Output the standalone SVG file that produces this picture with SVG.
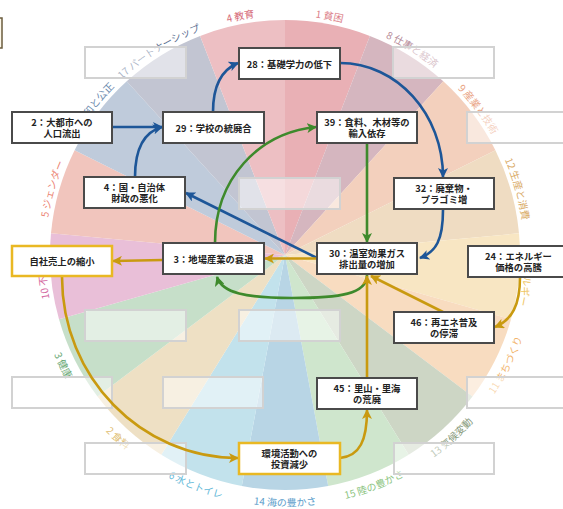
<svg xmlns="http://www.w3.org/2000/svg" width="563" height="509" viewBox="0 0 563 509">
<style>
.lbl{font-family:'Noto Sans CJK JP','Noto Sans',sans-serif;font-size:10px;}
.ph{fill:#ffffff;fill-opacity:0.5;stroke:#d2d2d2;stroke-width:2;}
.nd rect{fill:#ffffff;stroke:#4a4a4a;stroke-width:2;}
.nd.g rect{stroke:#e9b823;stroke-width:2.5;}
.nd text{font-family:'Noto Sans CJK JP','Noto Sans',sans-serif;font-size:9.3px;font-weight:bold;fill:#222;text-anchor:middle;dominant-baseline:central;}
.c{fill:none;stroke-width:2.6;}
.b{stroke:#1d5698;marker-end:url(#mb);}
.gr{stroke:#3e8a2c;marker-end:url(#mg);}
.y{stroke:#c99a10;marker-end:url(#my);}
</style>
<defs>
<marker id="mb" viewBox="0 0 10 10" refX="9" refY="5" markerWidth="10" markerHeight="10" markerUnits="userSpaceOnUse" orient="auto"><path d="M0,0 L10,5 L0,10 L2.5,5 z" fill="#1d5698"/></marker>
<marker id="mg" viewBox="0 0 10 10" refX="9" refY="5" markerWidth="10" markerHeight="10" markerUnits="userSpaceOnUse" orient="auto"><path d="M0,0 L10,5 L0,10 L2.5,5 z" fill="#3e8a2c"/></marker>
<marker id="my" viewBox="0 0 10 10" refX="9" refY="5" markerWidth="10" markerHeight="10" markerUnits="userSpaceOnUse" orient="auto"><path d="M0,0 L10,5 L0,10 L2.5,5 z" fill="#c99a10"/></marker>
<path id="a1" d="M205.4,29.1 A239.5,239.5 0 0 1 440.8,73.1"/>
<path id="a8" d="M292.4,15.6 A239.5,239.5 0 0 1 496.0,141.7"/>
<path id="a9" d="M378.4,34.4 A239.5,239.5 0 0 1 522.7,225.6"/>
<path id="a12" d="M451.8,83.1 A239.5,239.5 0 0 1 517.3,313.4"/>
<path id="a7" d="M502.6,154.9 A239.5,239.5 0 0 1 480.5,393.4"/>
<path id="a10" d="M89.5,393.4 A239.5,239.5 0 0 1 67.4,154.9"/>
<path id="a5" d="M52.7,313.4 A239.5,239.5 0 0 1 118.2,83.1"/>
<path id="a16" d="M47.3,225.6 A239.5,239.5 0 0 1 191.6,34.4"/>
<path id="a17" d="M74.0,141.7 A239.5,239.5 0 0 1 277.6,15.6"/>
<path id="a4" d="M129.2,73.1 A239.5,239.5 0 0 1 364.6,29.1"/>
<path id="a11" d="M424.0,464.7 A251.5,251.5 0 0 0 536.0,239.5"/>
<path id="a13" d="M338.8,500.6 A251.5,251.5 0 0 0 524.7,331.2"/>
<path id="a15" d="M246.4,503.5 A251.5,251.5 0 0 0 480.9,412.7"/>
<path id="a14" d="M159.3,472.8 A251.5,251.5 0 0 0 410.7,472.8"/>
<path id="a6" d="M89.1,412.7 A251.5,251.5 0 0 0 323.6,503.5"/>
<path id="a2" d="M45.3,331.2 A251.5,251.5 0 0 0 231.2,500.6"/>
<path id="a3" d="M34.0,239.5 A251.5,251.5 0 0 0 146.0,464.7"/>
</defs>
<rect width="563" height="509" fill="#ffffff"/>
<g id="wheel" stroke="none">
<path d="M285,255 L285,20 A235,235 0 0 1 369.9,35.9 Z" fill="#e9b0b5"/>
<path d="M285,255 L369.9,35.9 A235,235 0 0 1 443.3,81.3 Z" fill="#d5b6bf"/>
<path d="M285,255 L443.3,81.3 A235,235 0 0 1 495.4,150.3 Z" fill="#f3d0bd"/>
<path d="M285,255 L495.4,150.3 A235,235 0 0 1 519.0,233.3 Z" fill="#efdcc2"/>
<path d="M285,255 L519.0,233.3 A235,235 0 0 1 511.0,319.3 Z" fill="#f8e6c3"/>
<path d="M285,255 L511.0,319.3 A235,235 0 0 1 472.5,396.6 Z" fill="#f8dcc0"/>
<path d="M285,255 L472.5,396.6 A235,235 0 0 1 408.7,454.8 Z" fill="#cdd6c5"/>
<path d="M285,255 L408.7,454.8 A235,235 0 0 1 328.2,486.0 Z" fill="#cfe6cd"/>
<path d="M285,255 L328.2,486.0 A235,235 0 0 1 241.8,486.0 Z" fill="#b8d5e5"/>
<path d="M285,255 L241.8,486.0 A235,235 0 0 1 161.3,454.8 Z" fill="#c2e2ec"/>
<path d="M285,255 L161.3,454.8 A235,235 0 0 1 97.5,396.6 Z" fill="#eee0c4"/>
<path d="M285,255 L97.5,396.6 A235,235 0 0 1 59.0,319.3 Z" fill="#c6dfc9"/>
<path d="M285,255 L59.0,319.3 A235,235 0 0 1 51.0,233.3 Z" fill="#e9bfd8"/>
<path d="M285,255 L51.0,233.3 A235,235 0 0 1 74.6,150.3 Z" fill="#f1c5bd"/>
<path d="M285,255 L74.6,150.3 A235,235 0 0 1 126.7,81.3 Z" fill="#bfcbdb"/>
<path d="M285,255 L126.7,81.3 A235,235 0 0 1 200.1,35.9 Z" fill="#c2c5d2"/>
<path d="M285,255 L200.1,35.9 A235,235 0 0 1 285,20 Z" fill="#edbfc3"/>
</g>
<g id="labels" class="lbl">
<text fill="#dc7f89"><textPath href="#a1" startOffset="50%" text-anchor="middle">1 貧困</textPath></text>
<text fill="#b58a98"><textPath href="#a8" startOffset="50%" text-anchor="middle">8 仕事と経済</textPath></text>
<text fill="#e9a383"><textPath href="#a9" startOffset="50%" text-anchor="middle">9 産業と技術</textPath></text>
<text fill="#d9aa66"><textPath href="#a12" startOffset="50%" text-anchor="middle">12 生産と消費</textPath></text>
<text fill="#efc560"><textPath href="#a7" startOffset="50%" text-anchor="middle">7 エネルギー</textPath></text>
<text fill="#f2b46c"><textPath href="#a11" startOffset="50%" text-anchor="middle">11 まちづくり</textPath></text>
<text fill="#86997a"><textPath href="#a13" startOffset="50%" text-anchor="middle">13 気候変動</textPath></text>
<text fill="#8cc47f"><textPath href="#a15" startOffset="50%" text-anchor="middle">15 陸の豊かさ</textPath></text>
<text fill="#5c9ecb"><textPath href="#a14" startOffset="50%" text-anchor="middle">14 海の豊かさ</textPath></text>
<text fill="#5fb8d8"><textPath href="#a6" startOffset="50%" text-anchor="middle">6 水とトイレ</textPath></text>
<text fill="#e0bd70"><textPath href="#a2" startOffset="50%" text-anchor="middle">2 食料</textPath></text>
<text fill="#68a874"><textPath href="#a3" startOffset="50%" text-anchor="middle">3 健康</textPath></text>
<text fill="#d46aa2"><textPath href="#a10" startOffset="50%" text-anchor="middle">10 不平等</textPath></text>
<text fill="#ec8474"><textPath href="#a5" startOffset="50%" text-anchor="middle">5 ジェンダー</textPath></text>
<text fill="#6a88ad"><textPath href="#a16" startOffset="50%" text-anchor="middle">16 平和と公正</textPath></text>
<text fill="#5a6e90"><textPath href="#a17" startOffset="50%" text-anchor="middle">17 パートナーシップ</textPath></text>
<text fill="#d66a78"><textPath href="#a4" startOffset="50%" text-anchor="middle">4 教育</textPath></text>
</g>
<g id="placeholders">
<rect class="ph" x="85" y="47" width="101" height="31"/>
<rect class="ph" x="393" y="47" width="101" height="31"/>
<rect class="ph" x="467" y="112" width="101" height="31"/>
<rect class="ph" x="239" y="178" width="101" height="31"/>
<rect class="ph" x="85" y="310" width="101" height="31"/>
<rect class="ph" x="239" y="310" width="101" height="31"/>
<rect class="ph" x="12" y="377" width="100" height="31"/>
<rect class="ph" x="163" y="377" width="100" height="31"/>
<rect class="ph" x="467" y="377" width="101" height="31"/>
<rect class="ph" x="85" y="443" width="101" height="31"/>
<rect class="ph" x="394" y="443" width="100" height="31"/>
</g>
<rect x="-60" y="18" width="62" height="30" fill="#fdf8ea" stroke="#6b5c3e" stroke-width="1.5"/>
<g id="connectors">
<path class="c b" d="M112,127 L162,127"/>
<path class="c b" d="M135,177 C135,148 144,132 162,127"/>
<path class="c b" d="M213,112 C213,86 221,70 238,63"/>
<path class="c b" d="M340,63 C397,63 443,114 443,177"/>
<path class="c b" d="M443,210 C443,240 436,252 420,258"/>
<path class="c b" d="M317,258 L186,193"/>
<path class="c gr" d="M215,243 C215,179 258,133 316,127"/>
<path class="c gr" d="M367,143 L367,242"/>
<path class="c gr" d="M367,275 C367,294 340,298 292,298 C246,298 222,293 217,277"/>
<path class="c y" d="M317,258.5 L265,258.5"/>
<path class="c y" d="M163,260 L113,261"/>
<path class="c y" d="M62,277 C62,377 141,458 238,458"/>
<path class="c y" d="M340,458 C360,456 367,440 367,410"/>
<path class="c y" d="M367,378 L367,276"/>
<path class="c y" d="M443,312 L371,276"/>
<path class="c y" d="M520,277 C520,305 512,320 495,327"/>
</g>
<g id="n2" class="nd"><rect x="12" y="112" width="100" height="31"/><text x="62" y="122">2：大都市への</text><text x="62" y="133">人口流出</text></g>
<g id="n29" class="nd"><rect x="163" y="112" width="101" height="31"/><text x="213.5" y="127.5">29：学校の統廃合</text></g>
<g id="n28" class="nd"><rect x="239" y="48" width="101" height="31"/><text x="289.5" y="63.5">28：基礎学力の低下</text></g>
<g id="n39" class="nd"><rect x="317" y="112" width="100" height="31"/><text x="367" y="122">39：食料、木材等の</text><text x="367" y="133">輸入依存</text></g>
<g id="n4" class="nd"><rect x="84" y="177" width="101" height="31"/><text x="134.5" y="187">4：国・自治体</text><text x="134.5" y="198">財政の悪化</text></g>
<g id="n32" class="nd"><rect x="394" y="178" width="100" height="31"/><text x="444" y="188">32：廃棄物・</text><text x="444" y="199">プラゴミ増</text></g>
<g id="nsales" class="nd g"><rect x="12" y="246" width="100" height="30"/><text x="62" y="261">自社売上の縮小</text></g>
<g id="n3" class="nd"><rect x="163" y="243" width="101" height="31"/><text x="213.5" y="258.5">3：地場産業の衰退</text></g>
<g id="n30" class="nd"><rect x="317" y="243" width="100" height="31"/><text x="367" y="253">30：温室効果ガス</text><text x="367" y="264">排出量の増加</text></g>
<g id="n24" class="nd"><rect x="468" y="246" width="101" height="31"/><text x="518.5" y="256">24：エネルギー</text><text x="518.5" y="267">価格の高騰</text></g>
<g id="n46" class="nd"><rect x="394" y="312" width="100" height="31"/><text x="444" y="322">46：再エネ普及</text><text x="444" y="333">の停滞</text></g>
<g id="n45" class="nd"><rect x="317" y="378" width="100" height="31"/><text x="367" y="388">45：里山・里海</text><text x="367" y="399">の荒廃</text></g>
<g id="ninvest" class="nd g"><rect x="239" y="443" width="101" height="31"/><text x="289.5" y="453">環境活動への</text><text x="289.5" y="464">投資減少</text></g>
</svg>
